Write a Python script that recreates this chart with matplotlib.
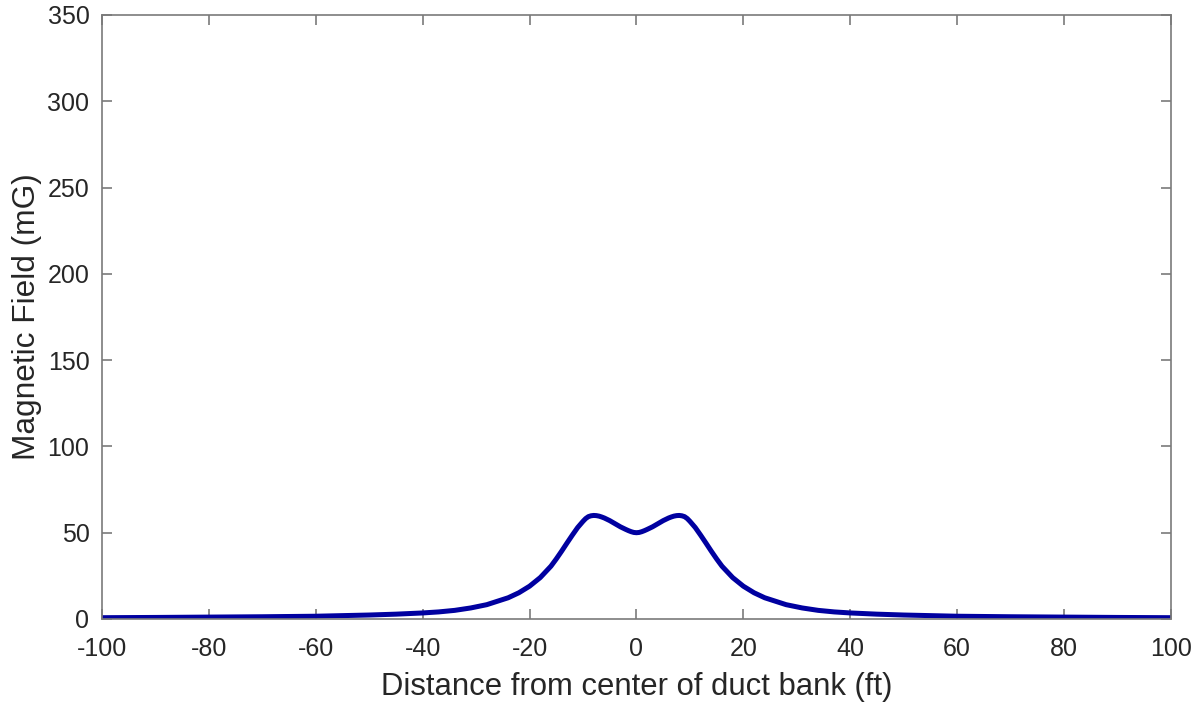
import numpy as np
import matplotlib
matplotlib.use("Agg")
import matplotlib.pyplot as plt
from matplotlib.ticker import FuncFormatter

# distance from center (ft) and field (mG) (left half)
dist_left = [-100, -90, -80, -70, -60, -50, -45, -40, -37, -34, -31, -28, -26,
             -24, -22, -20, -18, -16, -15, -14, -13, -12, -11, -10, -9.5, -9,
             -8.5, -8, -7.5, -7, -6.5, -6, -5, -4, -3, -2, -1.5, -1, -0.5]
field_left = [0.75, 0.9, 1.1, 1.3, 1.6, 2.3, 2.8, 3.5, 4.1, 5.0, 6.4, 8.3, 10.3,
              12.3, 15.2, 19.0, 24.0, 30.6, 34.8, 39.3, 44.0, 48.6, 53.0, 56.6,
              58.2, 59.3, 59.8, 60.0, 59.9, 59.6, 59.1, 58.5, 57.0, 55.2, 53.4,
              51.9, 51.2, 50.6, 50.15]
dist_mid = [0]
field_mid = [50.0]

# curve is symmetric about the center
dist = dist_left + dist_mid + [-d for d in dist_left[::-1]]
field = field_left + field_mid + field_left[::-1]

xticks = list(range(-100, 101, 20))
yticks = list(range(0, 351, 50))

plt.rcParams['font.family'] = ['Liberation Sans', 'DejaVu Sans']
txt = '#262626'
grey = '#7a7a7a'

fig = plt.figure(figsize=(11.94, 7.03), dpi=100)
ax = fig.add_axes([0.0854, 0.1195, 0.8953, 0.8592])
ax.plot(dist, field, color='#0000A0', lw=3.6, solid_capstyle='butt',
        solid_joinstyle='round')

ax.set_xlim(-100, 100)
ax.set_ylim(0, 350)
ax.set_xticks(xticks)
ax.set_yticks(yticks)
fmt = FuncFormatter(lambda v, p: '%d' % v)
ax.xaxis.set_major_formatter(fmt)
ax.yaxis.set_major_formatter(fmt)
ax.tick_params(direction='in', top=True, right=True, length=7, width=1.2,
               color=grey, labelsize=18, labelcolor=txt)
ax.tick_params(axis='x', pad=13)
ax.tick_params(axis='y', pad=9)
for s in ax.spines.values():
    s.set_color(grey)
    s.set_linewidth(1.2)
ax.set_xlabel('Distance from center of duct bank (ft)', fontsize=22.3, color=txt, labelpad=8)
ax.set_ylabel('Magnetic Field (mG)', fontsize=22.8, color=txt, labelpad=4)

fig.savefig('out.png', dpi=100)
